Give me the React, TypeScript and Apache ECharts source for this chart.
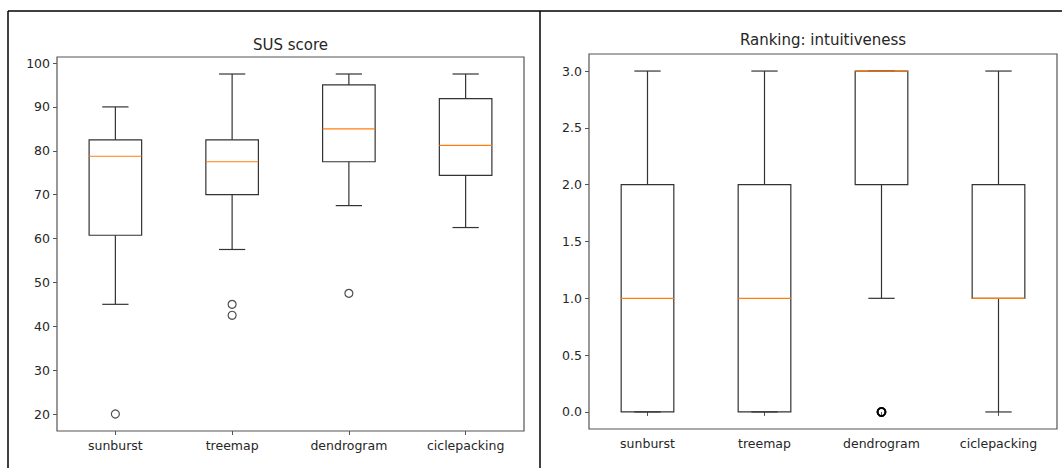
import React, { useEffect, useRef } from "react";
import * as echarts from "echarts";

const categories = ["sunburst", "treemap", "dendrogram", "ciclepacking"];

// SUS score boxplot stats
const susLow = [45, 57.5, 67.5, 62.5];
const susQ1 = [60.75, 70, 77.5, 74.375];
const susMedian = [78.75, 77.5, 85, 81.25];
const susQ3 = [82.5, 82.5, 95, 91.875];
const susHigh = [90, 97.5, 97.5, 97.5];
const susOutliers: [number, number][] = [
  [0, 20],
  [1, 45],
  [1, 42.5],
  [2, 47.5],
];
const susTicks = [20, 30, 40, 50, 60, 70, 80, 90, 100];

// Ranking: intuitiveness boxplot stats
const rankLow = [0, 0, 1, 0];
const rankQ1 = [0, 0, 2, 1];
const rankMedian = [1, 1, 3, 1];
const rankQ3 = [2, 2, 3, 2];
const rankHigh = [3, 3, 3, 3];
const rankOutliers: [number, number][] = [
  [2, 0],
  [2, 0],
  [2, 0],
];
const rankTicks = [0, 0.5, 1, 1.5, 2, 2.5, 3];

const FONT = "DejaVu Sans";
const TEXT = "#262626";
const FRAME = "#555";
const BOXC = "#333";

function boxData(lo: number[], q1: number[], med: number[], q3: number[], hi: number[]) {
  return categories.map((_, i) => [i, lo[i], q1[i], med[i], q3[i], hi[i]]);
}

function renderBox(params: any, api: any) {
  const idx = api.value(0);
  const pLo = api.coord([idx, api.value(1)]);
  const pQ1 = api.coord([idx, api.value(2)]);
  const pMed = api.coord([idx, api.value(3)]);
  const pQ3 = api.coord([idx, api.value(4)]);
  const pHi = api.coord([idx, api.value(5)]);
  const band = api.size([1, 0])[0];
  const bw = band * 0.45;
  const cw = band * 0.225;
  const x = pLo[0];
  const st = { stroke: BOXC, lineWidth: 1.2, fill: "none" };
  return {
    type: "group",
    children: [
      { type: "line", shape: { x1: x, y1: pQ3[1], x2: x, y2: pHi[1] }, style: st },
      { type: "line", shape: { x1: x, y1: pQ1[1], x2: x, y2: pLo[1] }, style: st },
      { type: "line", shape: { x1: x - cw / 2, y1: pHi[1], x2: x + cw / 2, y2: pHi[1] }, style: st },
      { type: "line", shape: { x1: x - cw / 2, y1: pLo[1], x2: x + cw / 2, y2: pLo[1] }, style: st },
      {
        type: "rect",
        shape: { x: x - bw / 2, y: pQ3[1], width: bw, height: pQ1[1] - pQ3[1] },
        style: st,
      },
      {
        type: "line",
        shape: { x1: x - bw / 2, y1: pMed[1], x2: x + bw / 2, y2: pMed[1] },
        style: { stroke: "#ff7f0e", lineWidth: 1.2 },
      },
    ],
  };
}

function xAxisDef(gridIndex: number) {
  return {
    type: "category",
    gridIndex,
    data: categories,
    boundaryGap: true,
    axisLine: { show: false },
    axisTick: { show: true, alignWithLabel: true, length: 4, lineStyle: { color: FRAME } },
    axisLabel: { color: TEXT, fontSize: 12.5, fontFamily: FONT, margin: 8 },
    splitLine: { show: false },
  };
}

function yAxisDef(gridIndex: number, min: number, max: number, ticks: number[], fmt: (v: number) => string) {
  return {
    type: "value",
    gridIndex,
    min,
    max,
    axisLine: { show: false },
    axisTick: { show: true, length: 4, customValues: ticks, lineStyle: { color: FRAME } },
    axisLabel: {
      color: TEXT,
      fontSize: 12.5,
      fontFamily: FONT,
      margin: 7,
      customValues: ticks,
      formatter: (v: number) => fmt(v),
    },
    splitLine: { show: false },
  };
}

export default function App() {
  const ref = useRef<HTMLDivElement>(null);
  useEffect(() => {
    if (!ref.current) return;
    const chart = echarts.init(ref.current, null, { renderer: "svg" });
    chart.setOption({
      animation: false,
      backgroundColor: "#fff",
      grid: [
        { left: 57, top: 57, width: 467, height: 374, show: true, borderColor: FRAME, borderWidth: 1.2, backgroundColor: "transparent" },
        { left: 589, top: 54, width: 468, height: 375, show: true, borderColor: FRAME, borderWidth: 1.2, backgroundColor: "transparent" },
      ],
      xAxis: [xAxisDef(0), xAxisDef(1)],
      yAxis: [
        yAxisDef(0, 16.125, 101.375, susTicks, (v) => String(Math.round(v))),
        yAxisDef(1, -0.15, 3.15, rankTicks, (v) => v.toFixed(1)),
      ],
      graphic: [
        { type: "line", shape: { x1: 8, y1: 11, x2: 1062, y2: 11 }, style: { stroke: "#000", lineWidth: 1.5 } },
        { type: "line", shape: { x1: 8, y1: 11, x2: 8, y2: 468 }, style: { stroke: "#000", lineWidth: 1.5 } },
        { type: "line", shape: { x1: 540, y1: 11, x2: 540, y2: 468 }, style: { stroke: "#000", lineWidth: 1.5 } },
        {
          type: "text",
          x: 290.5,
          y: 45,
          style: { text: "SUS score", fill: TEXT, font: `15px "${FONT}"`, textAlign: "center", textVerticalAlign: "middle" },
        },
        {
          type: "text",
          x: 823,
          y: 40,
          style: { text: "Ranking: intuitiveness", fill: TEXT, font: `15px "${FONT}"`, textAlign: "center", textVerticalAlign: "middle" },
        },
      ],
      series: [
        {
          type: "custom",
          xAxisIndex: 0,
          yAxisIndex: 0,
          renderItem: renderBox,
          encode: { x: 0, y: [1, 2, 3, 4, 5] },
          data: boxData(susLow, susQ1, susMedian, susQ3, susHigh),
        },
        {
          type: "scatter",
          xAxisIndex: 0,
          yAxisIndex: 0,
          symbol: "circle",
          symbolSize: 8,
          itemStyle: { color: "transparent", borderColor: "#222", borderWidth: 1.2 },
          data: susOutliers,
        },
        {
          type: "custom",
          xAxisIndex: 1,
          yAxisIndex: 1,
          renderItem: renderBox,
          encode: { x: 0, y: [1, 2, 3, 4, 5] },
          data: boxData(rankLow, rankQ1, rankMedian, rankQ3, rankHigh),
        },
        {
          type: "scatter",
          xAxisIndex: 1,
          yAxisIndex: 1,
          symbol: "circle",
          symbolSize: 8,
          itemStyle: { color: "transparent", borderColor: "#000", borderWidth: 1.8 },
          data: rankOutliers,
        },
      ],
    });
    return () => chart.dispose();
  }, []);
  return (
    <div
      ref={ref}
      style={{ position: "absolute", left: 0, top: 0, width: 1062, height: 468 }}
    />
  );
}
